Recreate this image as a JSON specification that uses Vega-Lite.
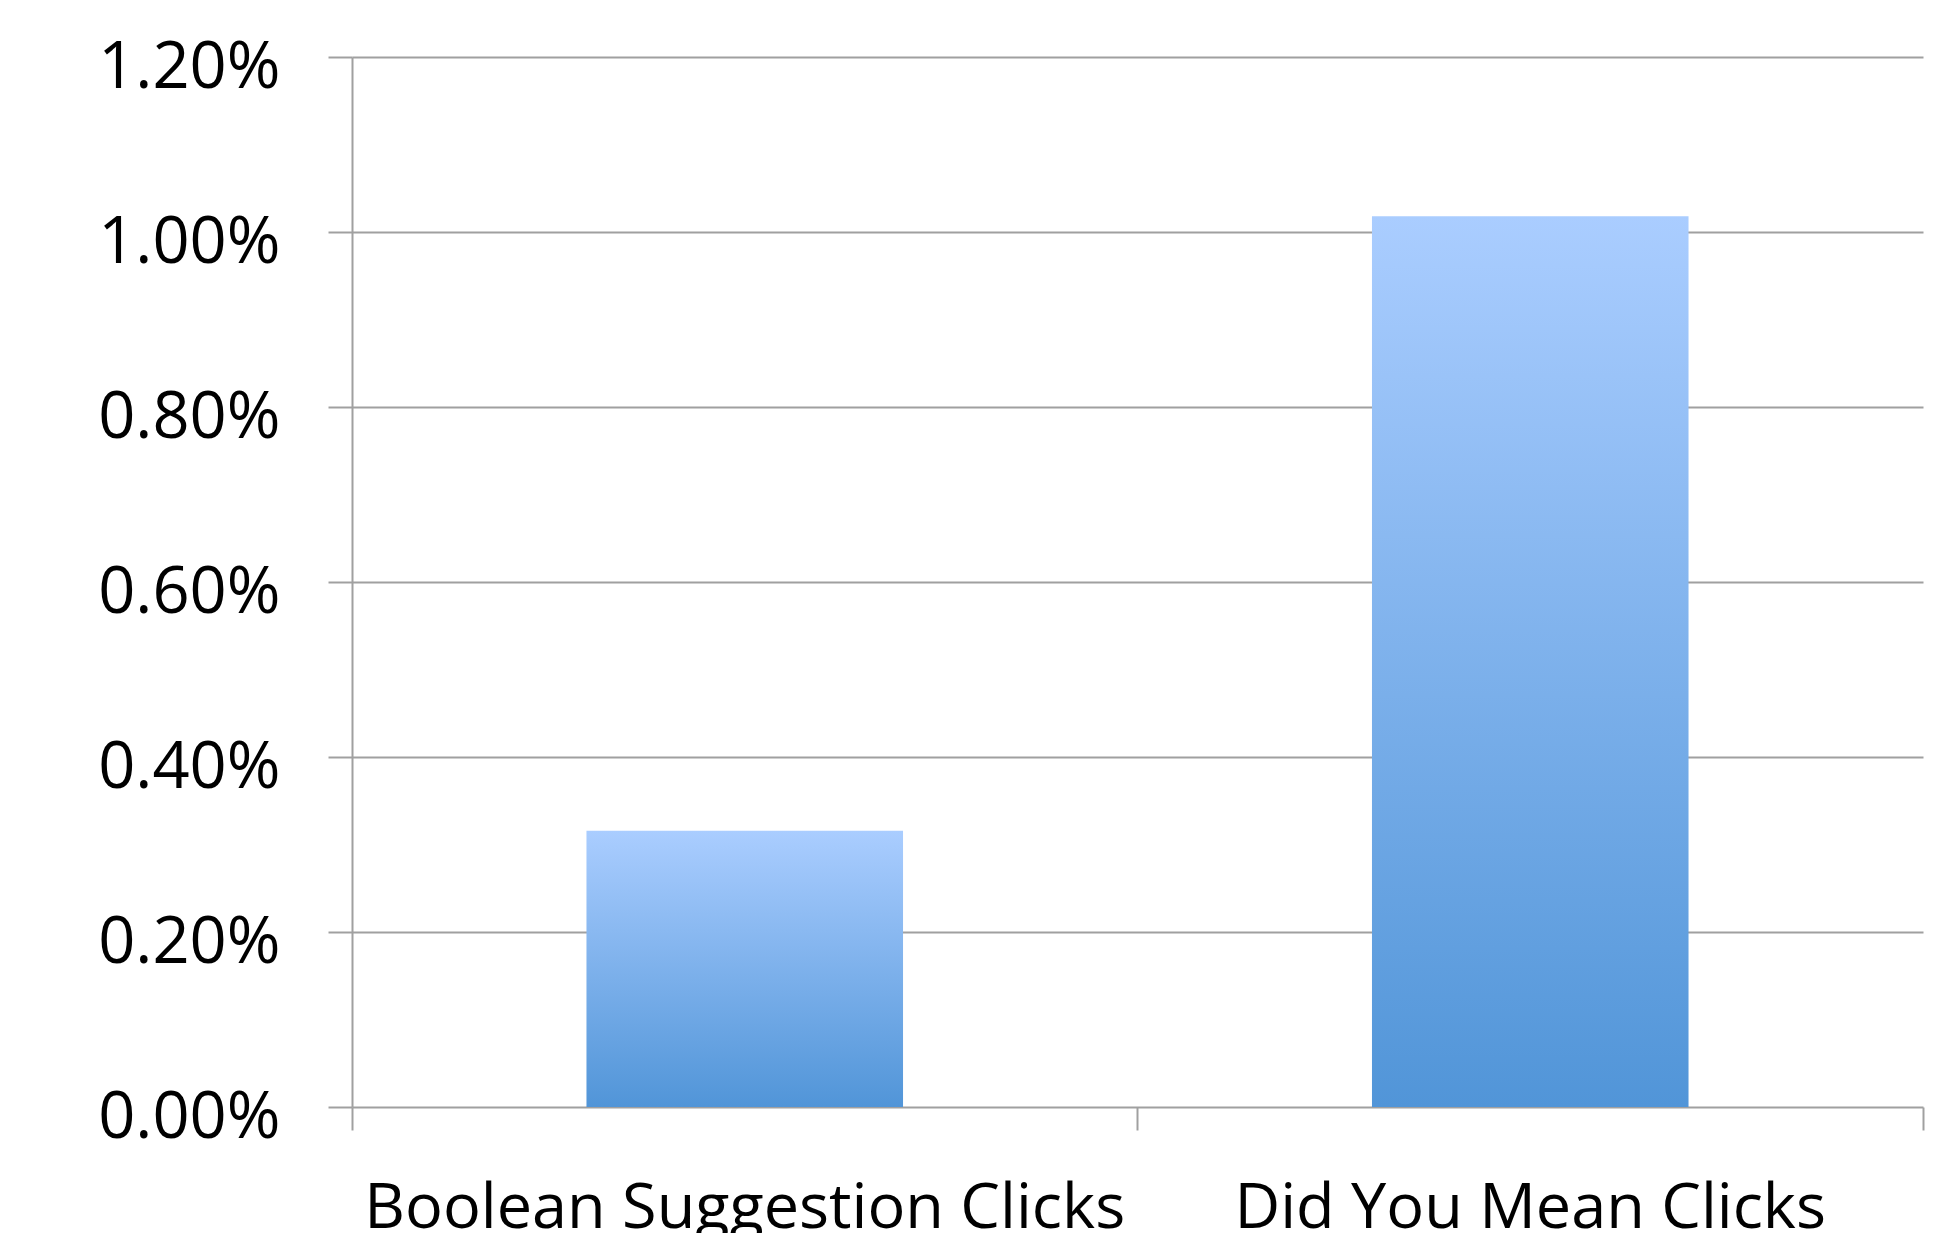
{
  "$schema": "https://vega.github.io/schema/vega-lite/v6.json",
  "autosize": {"type": "none"},
  "width": 1571,
  "height": 1050,
  "padding": {"left": 352, "top": 57, "right": 25, "bottom": 126},
  "background": "white",
  "config": {"view": {"stroke": null}, "font": "Open Sans"},
  "data": {
    "values": [
      {"category": "Boolean Suggestion Clicks", "rate": 0.003156},
      {"category": "Did You Mean Clicks", "rate": 0.01018}
    ]
  },
  "resolve": {"axis": {"x": "independent"}},
  "layer": [
    {
      "mark": {
        "type": "bar",
        "width": {"band": 0.403},
        "color": {
          "gradient": "linear",
          "x1": 0, "y1": 0, "x2": 0, "y2": 1,
          "stops": [
            {"offset": 0, "color": "#AACDFF"},
            {"offset": 1, "color": "#5195D8"}
          ]
        }
      },
      "encoding": {
        "x": {
          "field": "category",
          "type": "nominal",
          "sort": null,
          "scale": {"paddingInner": 0, "paddingOuter": 0},
          "axis": {
            "title": null,
            "bandPosition": 0,
            "domain": false,
            "grid": false,
            "ticks": true,
            "tickSize": 23,
            "tickColor": "#A0A0A0",
            "tickWidth": 2,
            "labelAngle": 0,
            "labelFontSize": 63,
            "labelLimit": 0,
            "labelColor": "#000000",
            "labelFont": "Open Sans",
            "labelBaseline": "alphabetic",
            "labelPadding": 97,
            "labelOffset": 0
          }
        },
        "y": {
          "field": "rate",
          "type": "quantitative",
          "scale": {"domain": [0, 0.012], "nice": false},
          "axis": {
            "title": null,
            "values": [0, 0.002, 0.004, 0.006, 0.008, 0.01, 0.012],
            "format": ".2%",
            "domain": true,
            "domainColor": "#A0A0A0",
            "domainWidth": 2,
            "grid": true,
            "gridColor": "#A0A0A0",
            "gridWidth": 2,
            "ticks": true,
            "tickSize": 24,
            "tickColor": "#A0A0A0",
            "tickWidth": 2,
            "labelFontSize": 65,
            "labelLimit": 0,
            "labelColor": "#000000",
            "labelFont": "Open Sans",
            "labelBaseline": "alphabetic",
            "labelOffset": 30,
            "labelPadding": 48
          }
        }
      }
    },
    {
      "mark": {"type": "bar", "opacity": 0, "width": {"band": 0.403}},
      "encoding": {
        "x": {
          "field": "category",
          "type": "nominal",
          "sort": null,
          "axis": {
            "orient": "bottom",
            "title": null,
            "values": ["Did You Mean Clicks"],
            "bandPosition": 1,
            "domain": false,
            "grid": false,
            "labels": false,
            "ticks": true,
            "tickSize": 23,
            "tickColor": "#A0A0A0",
            "tickWidth": 2
          }
        },
        "y": {"field": "rate", "type": "quantitative"}
      }
    }
  ]
}
